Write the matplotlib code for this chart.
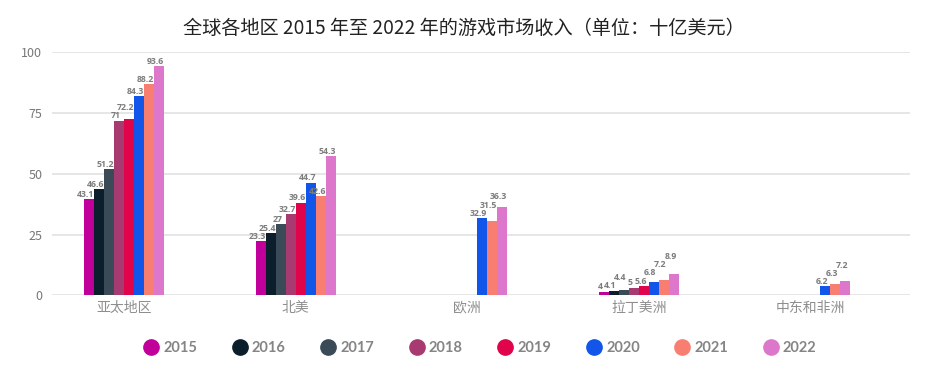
import matplotlib.pyplot as plt
from matplotlib.lines import Line2D
import numpy as np

plt.rcParams['font.family'] = ['Noto Sans CJK SC', 'DejaVu Sans']

regions = ['亚太地区', '北美', '欧洲', '拉丁美洲', '中东和非洲']
years = ['2015', '2016', '2017', '2018', '2019', '2020', '2021', '2022']
colors = ['#c1009c', '#0b1e2b', '#3a4a57', '#a83a72', '#e0044a', '#1156e8', '#f87e72', '#dd77cc']

# bar heights as drawn (per year, over regions)
bar_height = np.array([
    [39.6, 22.3, np.nan, 1.5, np.nan],
    [43.7, 25.6, np.nan, 1.9, np.nan],
    [52.0, 29.3, np.nan, 2.2, np.nan],
    [71.9, 33.4, np.nan, 3.1, np.nan],
    [72.5, 38.1, np.nan, 3.8, np.nan],
    [82.0, 46.4, 31.8, 5.5, 3.7],
    [87.0, 40.9, 30.6, 6.3, 4.6],
    [94.4, 57.3, 36.3, 8.8, 5.9],
])

# value labels printed on the chart
value_labels = [
    ['43.1', '23.3', '', '4', ''],
    ['46.6', '25.4', '', '4.1', ''],
    ['51.2', '27', '', '4.4', ''],
    ['71', '32.7', '', '5', ''],
    ['72.2', '39.6', '', '5.6', ''],
    ['84.3', '44.7', '32.9', '6.8', '6.2'],
    ['88.2', '42.6', '31.5', '7.2', '6.3'],
    ['93.6', '54.3', '36.3', '8.9', '7.2'],
]

W, H = 927, 384
fig = plt.figure(figsize=(W / 100, H / 100), dpi=100)
ax = fig.add_axes([52 / W, (H - 295.3) / H, (910 - 52) / W, (295.3 - 52.3) / H])

x = np.arange(len(regions))
w = 0.0583
anns = [[] for _ in regions]
for k, yr in enumerate(years):
    pos = x + (k - 3.5) * w
    ax.bar(pos, bar_height[k], width=w, color=colors[k], zorder=3)
    for j in range(len(regions)):
        if value_labels[k][j]:
            a = ax.annotate(value_labels[k][j], (pos[j], bar_height[k][j]),
                            xytext=(-2.5, 0.2), textcoords='offset points',
                            ha='center', va='bottom', fontsize=6.3,
                            fontweight='bold', color='#7c7c7c', zorder=4,
                            family=['Open Sans'])
            anns[j].append(a)

ax.set_xlim(-0.42, 4.58)
ax.set_ylim(0, 100)
ax.set_yticks([0, 25, 50, 75, 100])
ax.set_xticks(x, regions)
ax.grid(axis='y', color='#e2e2e2', lw=1.2, zorder=0)
for s in ax.spines.values():
    s.set_visible(False)
ax.tick_params(axis='y', length=0, pad=7, labelsize=9, labelcolor='#777777')
ax.tick_params(axis='x', length=0, pad=4, labelsize=10, labelcolor='#8e8e8e')

fig.text(0.5, 1 - 28 / H, '全球各地区 2015 年至 2022 年的游戏市场收入（单位：十亿美元）',
         ha='center', va='center', fontsize=13.8, color='#222222')

handles = [Line2D([], [], marker='o', ls='', color=c, markersize=11) for c in colors]
fig.legend(handles, years, ncol=8, loc='center', bbox_to_anchor=(0.518, 1 - 348 / H),
           frameon=False, handletextpad=0.35, columnspacing=2.4, handlelength=1.0,
           labelcolor='#858585', prop={'weight': 'bold', 'size': 10.5, 'family': 'Lato'})

# nudge value labels up so they don't sit on top of each other
fig.canvas.draw()
r = fig.canvas.get_renderer()
for group in anns:
    placed = []
    for a in group:
        while True:
            bb = a.get_window_extent(r)
            if not any(bb.x0 < p.x1 - 1 and bb.x1 > p.x0 + 1 and bb.y0 < p.y1 - 1 and bb.y1 > p.y0 + 1
                       for p in placed):
                break
            dx, dy = a.xyann
            a.xyann = (dx, dy + 0.5)
        placed.append(a.get_window_extent(r))

fig.savefig('out.png', dpi=100)
